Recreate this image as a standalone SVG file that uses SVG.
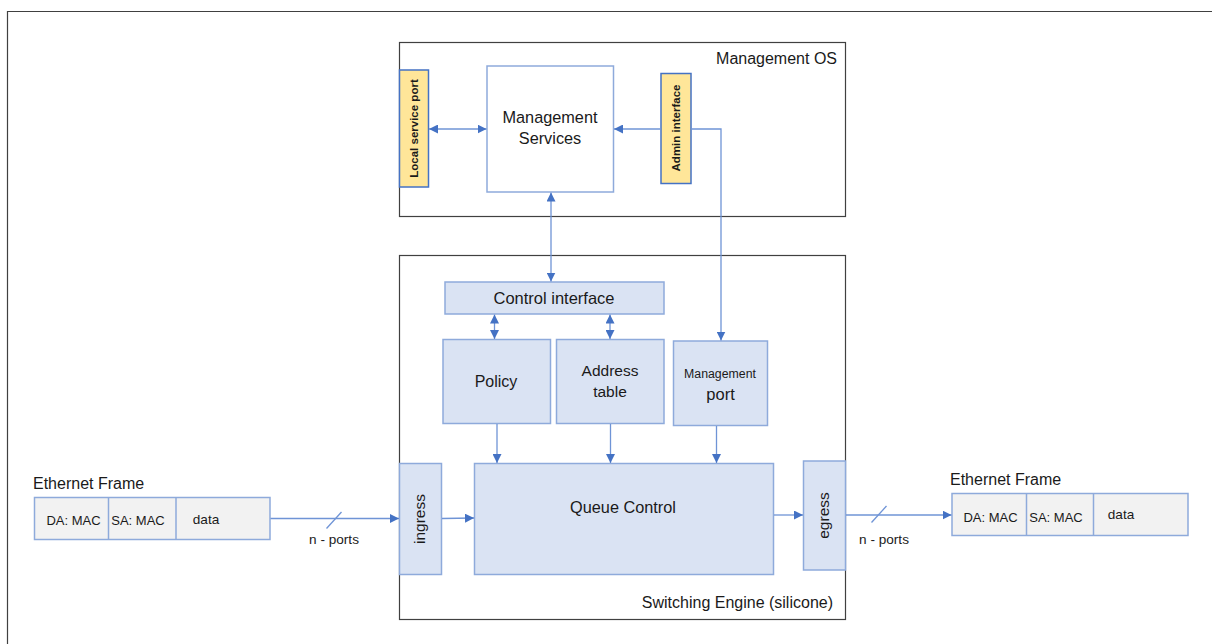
<svg xmlns="http://www.w3.org/2000/svg" width="1212" height="644" viewBox="0 0 1212 644">
  <defs>
    <marker id="arrow" viewBox="0 0 10 10" refX="10" refY="5" markerWidth="9" markerHeight="9" markerUnits="userSpaceOnUse" orient="auto-start-reverse">
      <path d="M0,0 L10,5 L0,10 Z" fill="#4472c4"/>
    </marker>
  </defs>
  <style>
    text { font-family: "Liberation Sans", Arial, sans-serif; fill: #1a1a1a; }
    .frame { fill: none; stroke: #404040; stroke-width: 1.2; }
    .block { fill: #dae3f3; stroke: #8eaadb; stroke-width: 1.5; }
    .plain { fill: #ffffff; stroke: #8eaadb; stroke-width: 1.5; }
    .port { fill: #ffe699; stroke: #4472c4; stroke-width: 1.5; }
    .cell { fill: #f2f2f2; stroke: #8eaadb; stroke-width: 1.5; }
    .link { fill: none; stroke: #6f94d6; stroke-width: 1.3; }
    .t16 { font-size: 16px; }
    .t15 { font-size: 15.5px; }
    .t13 { font-size: 13px; }
    .tn { font-size: 13.6px; }
    .small { font-size: 11.5px; font-weight: bold; }
  </style>

  <rect width="1212" height="644" fill="#ffffff"/>

  <!-- page border -->
  <path class="frame" d="M1212,11.5 H7.5 V644"/>

  <!-- Management OS container -->
  <g id="management-os">
    <rect class="frame" x="399.5" y="42.5" width="446" height="174"/>
    <text class="t16" x="837" y="64" text-anchor="end">Management OS</text>
  </g>

  <g id="management-services">
    <rect class="plain" x="487" y="66" width="126.5" height="126"/>
    <text x="550" y="123" text-anchor="middle" font-size="16.3px">Management</text>
    <text x="550" y="144" text-anchor="middle" font-size="16.3px">Services</text>
  </g>

  <g id="local-service-port">
    <rect class="port" x="399.5" y="70" width="29" height="117"/>
    <text class="small" transform="translate(418,128.5) rotate(-90)" text-anchor="middle">Local service port</text>
  </g>

  <g id="admin-interface">
    <rect class="port" x="661" y="73.5" width="30" height="110"/>
    <text class="small" transform="translate(680,128) rotate(-90)" text-anchor="middle">Admin interface</text>
  </g>

  <!-- Switching Engine container -->
  <g id="switching-engine">
    <rect class="frame" x="399.5" y="255.5" width="446" height="364"/>
    <text class="t16" x="833" y="608" text-anchor="end">Switching Engine (silicone)</text>
  </g>

  <g id="control-interface">
    <rect class="block" x="445" y="282" width="219" height="32"/>
    <text x="554" y="303.5" text-anchor="middle" font-size="16.5px">Control interface</text>
  </g>

  <g id="policy">
    <rect class="block" x="443" y="339.5" width="107.5" height="84"/>
    <text class="t16" x="496" y="387" text-anchor="middle">Policy</text>
  </g>

  <g id="address-table">
    <rect class="block" x="556.5" y="339.5" width="107.5" height="84"/>
    <text class="t15" x="610" y="376" text-anchor="middle">Address</text>
    <text class="t15" x="610" y="397" text-anchor="middle">table</text>
  </g>

  <g id="management-port">
    <rect class="block" x="673.5" y="341" width="94" height="84.5"/>
    <text x="720" y="378" text-anchor="middle" font-size="12.3px">Management</text>
    <text x="720.5" y="399.5" text-anchor="middle" font-size="16.5px">port</text>
  </g>

  <g id="queue-control">
    <rect class="block" x="474.5" y="463.5" width="299" height="111"/>
    <text x="623" y="513" text-anchor="middle" font-size="16.3px">Queue Control</text>
  </g>

  <g id="ingress">
    <rect class="block" x="399.5" y="463.5" width="42" height="111"/>
    <text class="t15" transform="translate(425,519) rotate(-90)" text-anchor="middle">ingress</text>
  </g>

  <g id="egress">
    <rect class="block" x="803.5" y="461" width="42" height="109"/>
    <text class="t15" transform="translate(829,515.5) rotate(-90)" text-anchor="middle">egress</text>
  </g>

  <!-- incoming Ethernet frame -->
  <g id="frame-in">
    <text class="t16" x="33" y="489">Ethernet Frame</text>
    <rect class="cell" x="34.5" y="497.5" width="235.5" height="42"/>
    <line class="cell" x1="108.5" y1="497.5" x2="108.5" y2="539.5"/>
    <line class="cell" x1="176" y1="497.5" x2="176" y2="539.5"/>
    <text class="t13" x="73.5" y="525" text-anchor="middle">DA: MAC</text>
    <text class="t13" x="138" y="525" text-anchor="middle">SA: MAC</text>
    <text class="tn" x="206" y="524" text-anchor="middle">data</text>
  </g>

  <!-- outgoing Ethernet frame -->
  <g id="frame-out">
    <text class="t16" x="950" y="485">Ethernet Frame</text>
    <rect class="cell" x="952" y="493.5" width="236" height="42"/>
    <line class="cell" x1="1026.5" y1="493.5" x2="1026.5" y2="535.5"/>
    <line class="cell" x1="1093.5" y1="493.5" x2="1093.5" y2="535.5"/>
    <text class="t13" x="990.5" y="522" text-anchor="middle">DA: MAC</text>
    <text class="t13" x="1056" y="522" text-anchor="middle">SA: MAC</text>
    <text class="tn" x="1121" y="519" text-anchor="middle">data</text>
  </g>

  <!-- connectors -->
  <g id="connectors">
    <line class="link" x1="429" y1="129" x2="486.5" y2="129" marker-start="url(#arrow)" marker-end="url(#arrow)"/>
    <line class="link" x1="660.5" y1="129" x2="614" y2="129" marker-end="url(#arrow)"/>
    <polyline class="link" points="691.5,129 721,129 721,340.5" marker-end="url(#arrow)"/>
    <line class="link" x1="551" y1="192.5" x2="551" y2="281.5" marker-start="url(#arrow)" marker-end="url(#arrow)"/>
    <line class="link" x1="494.5" y1="314.5" x2="494.5" y2="339" marker-start="url(#arrow)" marker-end="url(#arrow)"/>
    <line class="link" x1="610" y1="314.5" x2="610" y2="339" marker-start="url(#arrow)" marker-end="url(#arrow)"/>
    <line class="link" x1="497" y1="424" x2="497" y2="463" marker-end="url(#arrow)"/>
    <line class="link" x1="610.5" y1="424" x2="610.5" y2="463" marker-end="url(#arrow)"/>
    <line class="link" x1="716.5" y1="426" x2="716.5" y2="463" marker-end="url(#arrow)"/>
    <line class="link" x1="442" y1="518.5" x2="474" y2="518" marker-end="url(#arrow)"/>
    <line class="link" x1="774" y1="515" x2="803" y2="515" marker-end="url(#arrow)"/>
    <line class="link" x1="270.5" y1="518.5" x2="399" y2="518.5" marker-end="url(#arrow)"/>
    <line class="link" x1="326.5" y1="528.5" x2="341.5" y2="512"/>
    <text class="tn" x="334" y="544" text-anchor="middle">n - ports</text>
    <line class="link" x1="846" y1="515" x2="951.5" y2="515" marker-end="url(#arrow)"/>
    <line class="link" x1="871.5" y1="522.5" x2="886.5" y2="506"/>
    <text class="tn" x="884" y="544" text-anchor="middle">n - ports</text>
  </g>
</svg>
